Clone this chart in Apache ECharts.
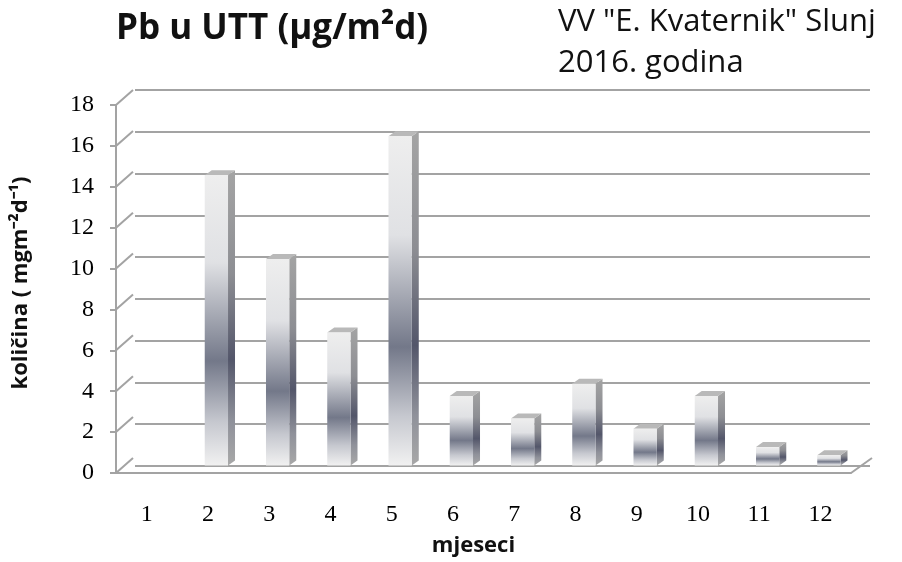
<!DOCTYPE html>
<html>
<head>
<meta charset="utf-8">
<script src="https://cdn.jsdelivr.net/npm/echarts@6/dist/echarts.min.js"></script>
<style>
  html, body { margin: 0; padding: 0; background: #fff; }
  #chart { width: 902px; height: 562px; }
</style>
</head>
<body>
<div id="chart"></div>
<script>
// mjeseci (x kategorije)
var months = ['1', '2', '3', '4', '5', '6', '7', '8', '9', '10', '11', '12'];
// Pb u UTT, očitano sa slike
var pbValues = [0, 14.2, 10.1, 6.5, 16.1, 3.4, 2.3, 4.0, 1.8, 3.4, 0.9, 0.5];
// oznake y osi
var yTicks = [0, 2, 4, 6, 8, 10, 12, 14, 16, 18];

// pomak stražnjeg zida (lažni 3D)
var DX = 19, DY = -15;
var GRID_LINE = '#a3a3a3';

var myChart = echarts.init(document.getElementById('chart'));

var frontGradient = new echarts.graphic.LinearGradient(0, 0, 0, 1, [
  {offset: 0, color: '#eeeeee'},
  {offset: 0.3, color: '#e0e1e4'},
  {offset: 0.64, color: '#737889'},
  {offset: 0.85, color: '#c6c8cf'},
  {offset: 1, color: '#f1f1f1'}
]);
var sideGradient = new echarts.graphic.LinearGradient(0, 0, 0, 1, [
  {offset: 0, color: '#a4a4a4'},
  {offset: 0.35, color: '#8d8e93'},
  {offset: 0.64, color: '#53566a'},
  {offset: 0.85, color: '#8f919a'},
  {offset: 1, color: '#a8a8a8'}
]);

function renderBar(params, api) {
  var v = api.value(1);
  if (!(v > 0)) return;
  var base = api.coord([api.value(0), 0]);
  var top = api.coord([api.value(0), v]);
  var bw = api.size([1, 0])[0] * 0.38;
  var ox = DX / 2 - 1, oy = DY / 2;
  var x0 = base[0] - bw / 2 + ox, x1 = x0 + bw;
  var yb = base[1] + oy, yt = top[1] + oy;
  var sx = 7, sy = -5;
  return {
    type: 'group',
    children: [
      {type: 'polygon', shape: {points: [[x1, yb], [x1, yt], [x1 + sx, yt + sy], [x1 + sx, yb + sy]]},
        style: {fill: sideGradient}},
      {type: 'polygon', shape: {points: [[x0, yt], [x1, yt], [x1 + sx, yt + sy], [x0 + sx, yt + sy]]},
        style: {fill: '#b9b9b9'}},
      {type: 'rect', shape: {x: x0, y: yt, width: bw, height: yb - yt},
        style: {fill: frontGradient}}
    ]
  };
}

function renderWall(params, api) {
  var cs = params.coordSys;
  var p = api.coord([0, api.value(1)]);
  var kids = [{type: 'line', shape: {x1: cs.x, y1: p[1], x2: cs.x + DX - 2, y2: p[1] + DY},
    style: {stroke: GRID_LINE, lineWidth: 2}}];
  if (api.value(1) === 0) {
    kids.push({type: 'line', shape: {x1: cs.x + cs.width, y1: p[1], x2: cs.x + cs.width + DX + 2, y2: p[1] + DY},
      style: {stroke: GRID_LINE, lineWidth: 2}});
  }
  return {type: 'group', children: kids};
}

var option = {
  animation: false,
  title: [
    {text: 'Pb u UTT (µg/m²d)', left: 116, top: 12, padding: 0,
      textStyle: {fontFamily: 'Open Sans', fontSize: 35, fontWeight: 'bold', color: '#111'}},
    {text: 'VV "E. Kvaternik" Slunj\n2016. godina', left: 558, top: 2, padding: 0,
      textStyle: {fontFamily: 'Open Sans', fontSize: 31, fontWeight: 'normal', color: '#111', lineHeight: 41}}
  ],
  grid: [
    {left: 135, top: 90, width: 735, height: 376},
    {left: 116, top: 105, width: 735, height: 376}
  ],
  xAxis: [
    {gridIndex: 0, type: 'category', data: months, show: false},
    {gridIndex: 1, type: 'category', data: months,
      axisLine: {lineStyle: {color: GRID_LINE, width: 2}},
      axisTick: {show: false},
      axisLabel: {margin: 30, color: '#000', fontFamily: 'Liberation Serif', fontSize: 24},
      name: 'mjeseci', nameLocation: 'middle', nameGap: 62,
      nameTextStyle: {fontFamily: 'Open Sans', fontWeight: 'bold', fontSize: 22, color: '#111', padding: [0, 20, 0, 0]}}
  ],
  yAxis: [
    {gridIndex: 0, type: 'value', min: 0, max: 18, interval: 2,
      axisLine: {show: false}, axisTick: {show: false}, axisLabel: {show: false},
      splitLine: {lineStyle: {color: GRID_LINE, width: 2}}},
    {gridIndex: 1, type: 'value', min: 0, max: 18, interval: 2,
      axisLine: {show: true, lineStyle: {color: GRID_LINE, width: 2}},
      axisTick: {show: true, length: 6, lineStyle: {color: GRID_LINE, width: 2}},
      splitLine: {show: false},
      axisLabel: {margin: 22, color: '#000', fontFamily: 'Liberation Serif', fontSize: 24},
      name: 'količina ( mgm⁻²d⁻¹)', nameLocation: 'middle', nameGap: 84, nameRotate: 90,
      nameTextStyle: {fontFamily: 'Open Sans', fontWeight: 'bold', fontSize: 22, color: '#111', padding: [0, 0, 0, 12]}}
  ],
  series: [
    {type: 'custom', xAxisIndex: 1, yAxisIndex: 1, renderItem: renderWall,
      data: yTicks.map(function (t) { return [0, t]; }), silent: true, z: 1},
    {type: 'custom', xAxisIndex: 1, yAxisIndex: 1, renderItem: renderBar,
      data: pbValues.map(function (v, i) { return [i, v]; }), z: 3}
  ]
};

myChart.setOption(option);
</script>
</body>
</html>
